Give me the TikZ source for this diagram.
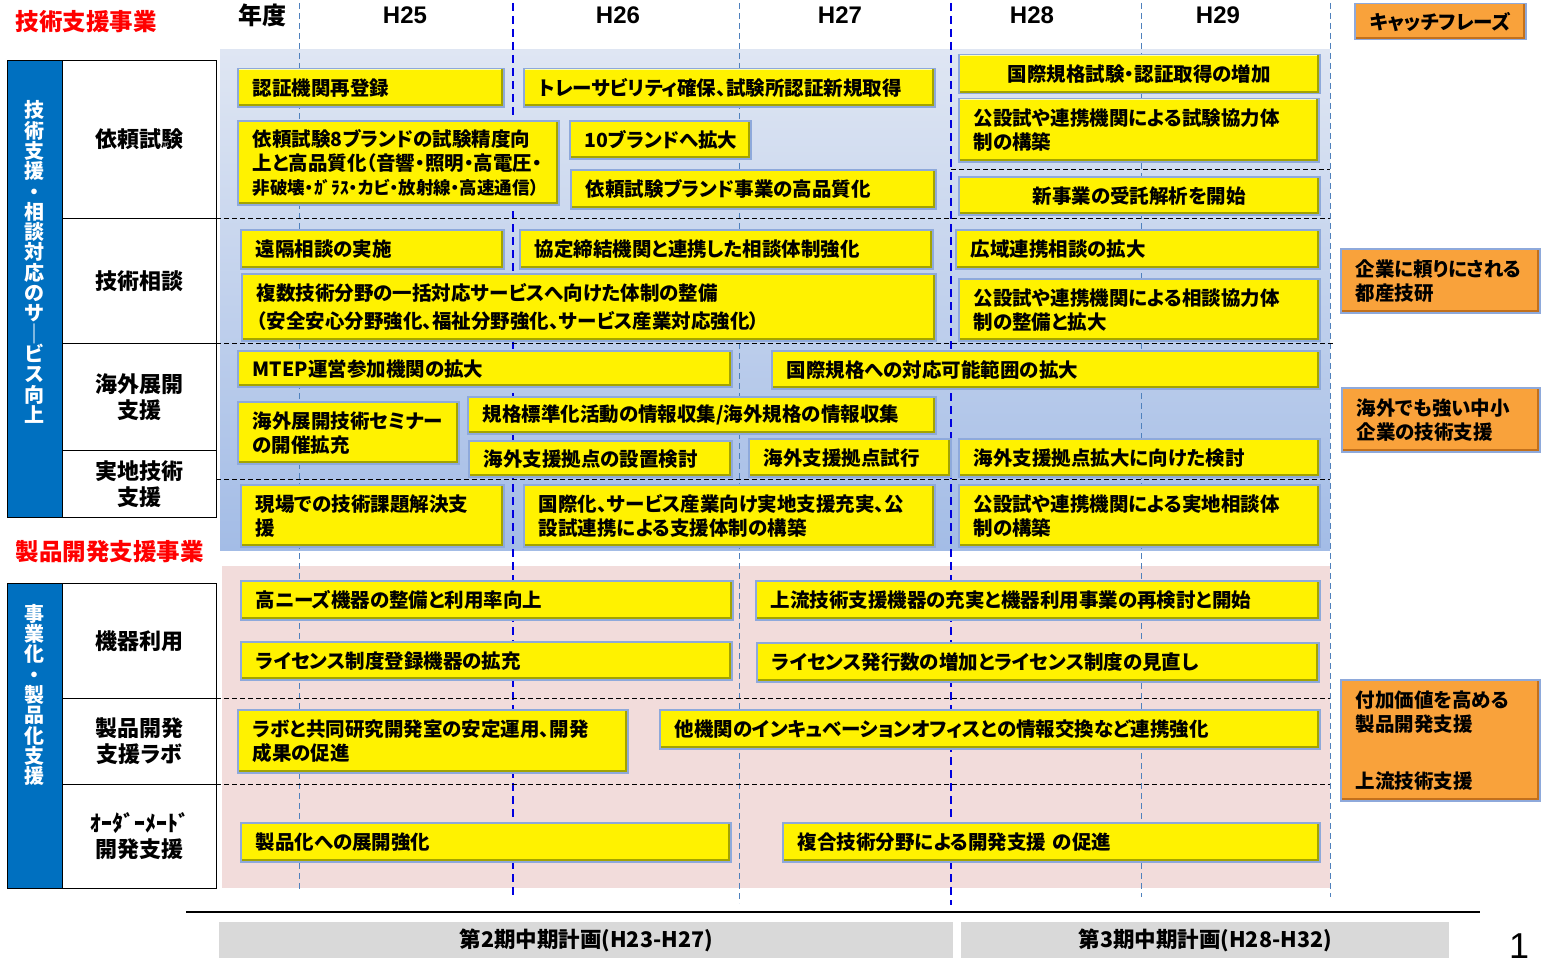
\documentclass[tikz,border=0pt]{standalone}
\usepackage{fontspec}
\setmainfont{Noto Sans CJK JP}[RawFeature=+palt]
\newfontfamily\latinfont{Liberation Sans}
\usetikzlibrary{positioning}
\definecolor{boxedge}{HTML}{8EA9DB}
\definecolor{ydark}{HTML}{A3A300}
\definecolor{ylight}{HTML}{FFFFB0}
\definecolor{orangefill}{HTML}{F9A23B}
\definecolor{odark}{HTML}{C2701C}
\definecolor{barblue}{HTML}{0070C0}
\definecolor{bgtop}{HTML}{DFE6F3}
\definecolor{bgbottom}{HTML}{A3BCE6}
\definecolor{pinkbg}{HTML}{F2DCDB}
\definecolor{periodgray}{HTML}{D9D9D9}
\definecolor{thinline}{HTML}{4F81BD}
\definecolor{thickline}{HTML}{0000E0}

\begin{document}
\begin{tikzpicture}[x=1pt,y=-1pt,
  ybox/.style={anchor=north west,fill=yellow,draw=boxedge,line width=1.5pt,
    inner xsep=15pt,inner ysep=0pt,align=left,
    font=\bfseries\fontsize{19.5}{24}\selectfont,
    path picture={
      \draw[line width=3pt,ylight] (path picture bounding box.south west) -- (path picture bounding box.north west) -- (path picture bounding box.north east);
      \draw[line width=5pt,ydark] (path picture bounding box.south west) -- (path picture bounding box.south east) -- (path picture bounding box.north east);}},
  obox/.style={ybox,fill=orangefill,
    path picture={
      \draw[line width=5pt,odark] (path picture bounding box.south west) -- (path picture bounding box.south east) -- (path picture bounding box.north east);}},
  cell/.style={anchor=north west,draw=black,fill=white,line width=1pt,minimum width=154,
    align=center,font=\bfseries\fontsize{22}{26}\selectfont},
  bar/.style={anchor=north west,draw=black,fill=barblue,line width=1pt,minimum width=55},
  bartext/.style={text=white,align=center,font=\bfseries\fontsize{20}{20.3}\selectfont},
  yearlabel/.style={font=\latinfont\bfseries\fontsize{24}{24}\selectfont},
  title/.style={anchor=west,text=red,font=\bfseries\fontsize{23.5}{24}\selectfont},
  thin/.style={thinline,line width=1pt,dash pattern=on 6pt off 4pt},
  thick/.style={thickline,line width=2pt,dash pattern=on 8pt off 5pt},
  rowline/.style={black,line width=1pt,dash pattern=on 5pt off 3pt},
  period/.style={anchor=north west,fill=periodgray,minimum height=36,
    font=\bfseries\fontsize{21.5}{22}\selectfont}]
\useasboundingbox (0,0) rectangle (1543,966);
%background areas
\fill[top color=bgtop,bottom color=bgbottom] (220,50) rectangle (1330,550);
\fill[pinkbg] (222,566) rectangle (1330,888);
%year columns
\draw[thin] (299,3) -- (299,890);
\draw[thick] (513,3) -- (513,898);
\draw[thin] (739,3) -- (739,903);
\draw[thick] (951,3) -- (951,905);
\draw[thin] (1141,3) -- (1141,897);
\draw[thin] (1330,3) -- (1330,897);
%header row
\node[title] (t1) at (12,22) {技術支援事業};
\node[font=\bfseries\fontsize{24}{24}\selectfont] (nendo) at (262,15) {年度};
\node[yearlabel] (h25) at (405,15) {H25};
\node[yearlabel] (h26) at (618,15) {H26};
\node[yearlabel] (h27) at (840,15) {H27};
\node[yearlabel] (h28) at (1032,15) {H28};
\node[yearlabel] (h29) at (1218,15) {H29};
\node[obox,minimum width=171,minimum height=36,align=center] (catch) at (1354,3) {キャッチフレーズ};
%row separators
\draw[rowline] (951,169) -- (1330,169);
\draw[rowline] (216,218) -- (1330,218);
\draw[rowline] (216,343) -- (1335,343);
\draw[rowline] (216,479) -- (1330,479);
\draw[rowline] (216,698) -- (1330,698);
\draw[rowline] (216,784) -- (1330,784);
%left table, upper part
\node[bar,minimum height=457] (bar1) at (7,60) {};
\node[bartext] (bar1t) at (34.5,262) {技\\術\\支\\援\\・\\相\\談\\対\\応\\の\\サ\\｜\\ビ\\ス\\向\\上};
\node[cell,minimum height=158] (c1) at (62,60) {依頼試験};
\node[cell,minimum height=125] (c2) at (62,218) {技術相談};
\node[cell,minimum height=107] (c3) at (62,343) {海外展開\\支援};
\node[cell,minimum height=67] (c4) at (62,450) {実地技術\\支援};
%left table, lower part
\node[title] (t2) at (12,552) {製品開発支援事業};
\node[bar,minimum height=305] (bar2) at (7,583) {};
\node[bartext] (bar2t) at (34.5,695) {事\\業\\化\\・\\製\\品\\化\\支\\援};
\node[cell,minimum height=115] (c5) at (62,583) {機器利用};
\node[cell,minimum height=86] (c6) at (62,698) {製品開発\\支援ラボ};
\node[cell,minimum height=104] (c7) at (62,784) {ｵｰﾀﾞｰﾒｰﾄﾞ\\開発支援};
%requested tests
\node[ybox,minimum height=38,text width=236] (b1) at (237,68) {認証機関再登録};
\node[ybox,minimum height=38,text width=381] (b2) at (523,68) {トレーサビリティ確保、試験所認証新規取得};
\node[ybox,minimum height=39,text width=331,align=center] (b3) at (958,54) {国際規格試験・認証取得の増加};
\node[ybox,minimum height=84,text width=291] (b4) at (237,120) {依頼試験8ブランドの試験精度向\\上と高品質化（音響・照明・高電圧・\\{\fontsize{17.5}{20}\selectfont 非破壊・ｶﾞﾗｽ・カビ・放射線・高速通信）}};
\node[ybox,minimum height=38,text width=151] (b5) at (569,120) {10ブランドへ拡大};
\node[ybox,minimum height=39,text width=335] (b6) at (570,169) {依頼試験ブランド事業の高品質化};
\node[ybox,minimum height=63,text width=330] (b7) at (958,98) {公設試や連携機関による試験協力体\\制の構築};
\node[ybox,minimum height=38,text width=331,align=center] (b8) at (958,176) {新事業の受託解析を開始};
%technical consultation
\node[ybox,minimum height=39,text width=233] (b9) at (240,229) {遠隔相談の実施};
\node[ybox,minimum height=39,text width=383] (b10) at (519,229) {協定締結機関と連携した相談体制強化};
\node[ybox,minimum height=39,text width=334] (b11) at (955,229) {広域連携相談の拡大};
\node[ybox,minimum height=67,text width=664] (b12) at (241,273) {複数技術分野の一括対応サービスへ向けた体制の整備\\[4pt]（安全安心分野強化、福祉分野強化、サービス産業対応強化）};
\node[ybox,minimum height=62,text width=331] (b13) at (958,278) {公設試や連携機関による相談協力体\\制の整備と拡大};
%overseas support
\node[ybox,minimum height=36,text width=464] (b14) at (237,350) {MTEP運営参加機関の拡大};
\node[ybox,minimum height=38,text width=518] (b15) at (771,350) {国際規格への対応可能範囲の拡大};
\node[ybox,minimum height=62,text width=191] (b16) at (237,401) {海外展開技術セミナー\\の開催拡充};
\node[ybox,minimum height=37,text width=438] (b17) at (467,396) {規格標準化活動の情報収集/海外規格の情報収集};
\node[ybox,minimum height=36,text width=233] (b18) at (468,440) {海外支援拠点の設置検討};
\node[ybox,minimum height=38,text width=172] (b19) at (748,438) {海外支援拠点試行};
\node[ybox,minimum height=38,text width=331] (b20) at (958,438) {海外支援拠点拡大に向けた検討};
%on-site support
\node[ybox,minimum height=62,text width=233] (b21) at (240,484) {現場での技術課題解決支\\援};
\node[ybox,minimum height=62,text width=381] (b22) at (523,484) {国際化、サービス産業向け実地支援充実、公\\設試連携による支援体制の構築};
\node[ybox,minimum height=62,text width=331] (b23) at (958,484) {公設試や連携機関による実地相談体\\制の構築};
%equipment use
\node[ybox,minimum height=39,text width=462] (b24) at (240,580) {高ニーズ機器の整備と利用率向上};
\node[ybox,minimum height=39,text width=534] (b25) at (755,580) {上流技術支援機器の充実と機器利用事業の再検討と開始};
\node[ybox,minimum height=38,text width=461] (b26) at (240,641) {ライセンス制度登録機器の拡充};
\node[ybox,minimum height=39,text width=532] (b27) at (756,642) {ライセンス発行数の増加とライセンス制度の見直し};
%product development lab
\node[ybox,minimum height=63,text width=360] (b28) at (237,709) {ラボと共同研究開発室の安定運用、開発\\成果の促進};
\node[ybox,minimum height=39,text width=630] (b29) at (659,709) {他機関のインキュベーションオフィスとの情報交換など連携強化};
%custom development
\node[ybox,minimum height=39,text width=460] (b30) at (240,822) {製品化への展開強化};
\node[ybox,minimum height=39,text width=507] (b31) at (782,822) {複合技術分野による開発支援 の促進};
%catch phrases
\node[obox,minimum height=64,text width=169] (o1) at (1340,248) {企業に頼りにされる\\都産技研};
\node[obox,minimum height=64,text width=168] (o2) at (1341,387) {海外でも強い中小\\企業の技術支援};
\node[obox,minimum height=121,text width=169] (o3) at (1340,679) {付加価値を高める\\製品開発支援\\[33pt]上流技術支援};
%mid-term plans
\draw[black,line width=1.5pt] (186,912) -- (1480,912);
\node[period,minimum width=734] (p2) at (219,922) {第2期中期計画(H23-H27)};
\node[period,minimum width=488] (p3) at (961,922) {第3期中期計画(H28-H32)};
\node[anchor=base,inner sep=0pt,font=\latinfont\fontsize{36}{36}\selectfont] (page) at (1519,958) {1};
\end{tikzpicture}
\end{document}
